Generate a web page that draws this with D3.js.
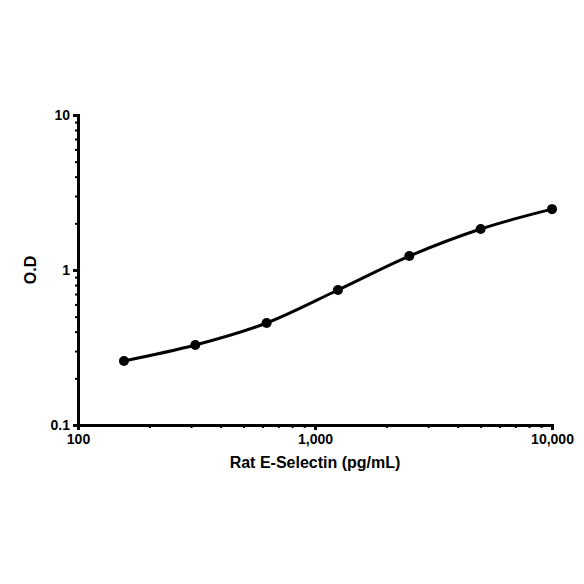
<!DOCTYPE html>
<html><head><meta charset="utf-8">
<script src="https://cdn.jsdelivr.net/npm/d3@7"></script>
<style>body{margin:0;background:#fff}</style></head>
<body><svg id="c" width="584" height="584"></svg>
<script>
const concentrations=[156.25,312.5,625,1250,2500,5000,10000];
const odValues=[0.259,0.328,0.455,0.743,1.23,1.84,2.47];
const xTicks=[100,1000,10000];
const xTickLabels=["100","1,000","10,000"];
const yTicks=[0.1,1,10];
const yTickLabels=["0.1","1","10"];

const svg=d3.select("#c");
const x=d3.scaleLog().domain([100,10000]).range([78,552]);
const y=d3.scaleLog().domain([0.1,10]).range([425,115]);
const font="Liberation Sans, Arial, sans-serif";

const minorX=[],minorY=[];
for(let d=100;d<10000;d*=10)for(let k=2;k<10;k++)minorX.push(d*k);
for(let d=0.1;d<10;d*=10)for(let k=2;k<10;k++)minorY.push(d*k);

svg.append("g").attr("transform","translate(0,425)")
 .call(d3.axisBottom(x).tickValues(minorX).tickFormat("").tickSize(3)).select(".domain").remove();
svg.append("g").attr("transform","translate(78,0)")
 .call(d3.axisLeft(y).tickValues(minorY).tickFormat("").tickSize(3)).select(".domain").remove();
svg.selectAll(".tick line").attr("stroke","#000").attr("stroke-width",2);
const xa=svg.append("g").attr("transform","translate(0,425)")
 .call(d3.axisBottom(x).tickValues(xTicks).tickFormat((d,i)=>xTickLabels[i]).tickSize(5).tickPadding(4));
const ya=svg.append("g").attr("transform","translate(78,0)")
 .call(d3.axisLeft(y).tickValues(yTicks).tickFormat((d,i)=>yTickLabels[i]).tickSize(5).tickPadding(3));
[xa,ya].forEach(a=>{a.selectAll(".domain,.tick line").attr("stroke","#000").attr("stroke-width",3);
 a.selectAll(".tick text").attr("font-family",font).attr("font-weight","bold").attr("font-size",14).attr("fill","#000");});

const line=d3.line().x((d,i)=>x(concentrations[i])).y(d=>y(d)).curve(d3.curveMonotoneX);
svg.append("path").datum(odValues).attr("d",line).attr("fill","none").attr("stroke","#000").attr("stroke-width",3);
svg.selectAll("circle.p").data(odValues).enter().append("circle")
 .attr("cx",(d,i)=>x(concentrations[i])).attr("cy",d=>y(d)).attr("r",5).attr("fill","#000");

svg.append("text").attr("x",315).attr("y",468).attr("text-anchor","middle")
 .attr("font-family",font).attr("font-weight","bold").attr("font-size",16).text("Rat E-Selectin (pg/mL)");
svg.append("text").attr("transform","translate(36,270) rotate(-90)").attr("text-anchor","middle")
 .attr("font-family",font).attr("font-weight","bold").attr("font-size",16).text("O.D");
</script></body></html>
